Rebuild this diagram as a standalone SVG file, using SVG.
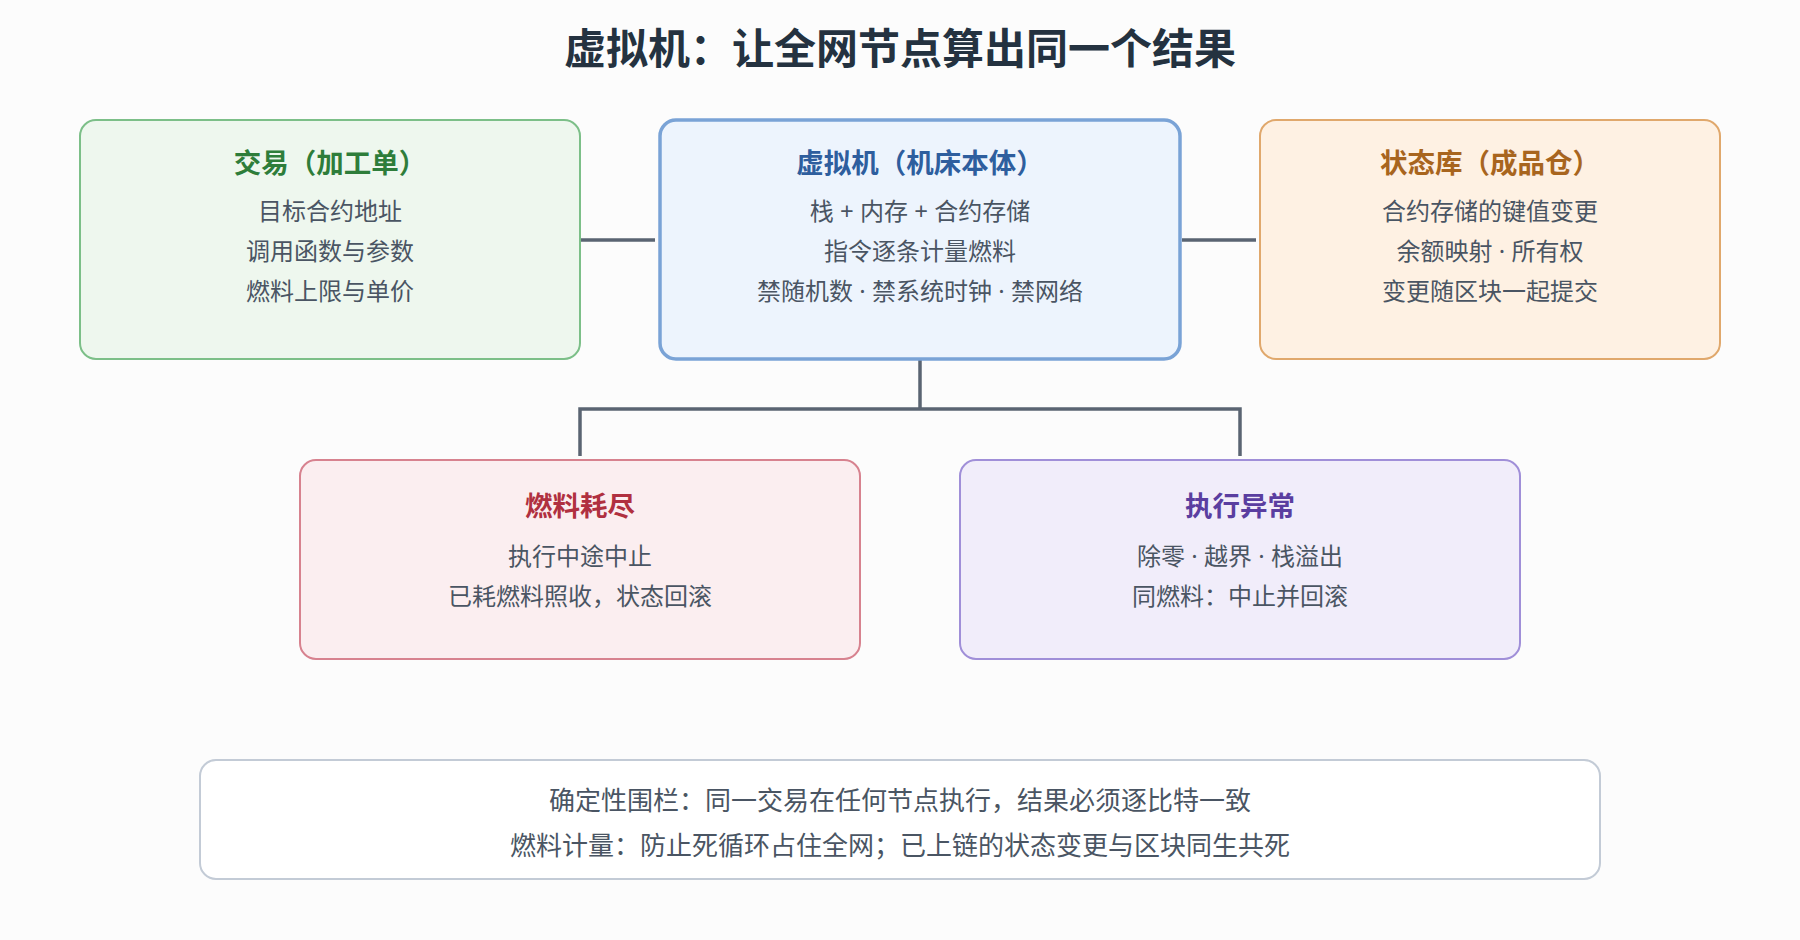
<svg xmlns="http://www.w3.org/2000/svg" width="1800" height="940" viewBox="0 0 1800 940">
<style>
text{font-family:"Noto Sans","Noto Sans CJK SC",sans-serif;text-anchor:middle}
.t{font-size:27.5px;font-weight:700}
.b{font-size:24px;fill:#4a5563}
.f{font-size:26px;fill:#4a5563}
.c{stroke:#5a6472;stroke-width:3.5;fill:none}
</style>
<rect width="1800" height="940" fill="#fcfcfc"/>
<text x="900" y="64" style="font-size:42px;font-weight:700" fill="#243240">虚拟机：让全网节点算出同一个结果</text>
<g id="connectors">
<path class="c" d="M580 240H655M1182 240H1256M920 360V409M580 456V409H1240V456"/>
</g>
<g id="tx"><rect x="80" y="120" width="500" height="239" rx="16" fill="#eef7ee" stroke="#7cbf88" stroke-width="2"/>
<text x="330" y="173" class="t" fill="#2e7d3a">交易（加工单）</text>
<text x="330" y="220" class="b">目标合约地址</text><text x="330" y="260" class="b">调用函数与参数</text><text x="330" y="300" class="b">燃料上限与单价</text></g>
<g id="vm"><rect x="660" y="120" width="520" height="239" rx="16" fill="#edf4fd" stroke="#7aa3d6" stroke-width="3.5"/>
<text x="920" y="173" class="t" fill="#2e5e9e">虚拟机（机床本体）</text>
<text x="920" y="220" class="b">栈 + 内存 + 合约存储</text><text x="920" y="260" class="b">指令逐条计量燃料</text><text x="920" y="300" class="b">禁随机数 · 禁系统时钟 · 禁网络</text></g>
<g id="state"><rect x="1260" y="120" width="460" height="239" rx="16" fill="#fef1e3" stroke="#e0a86c" stroke-width="2"/>
<text x="1490" y="173" class="t" fill="#a8651e">状态库（成品仓）</text>
<text x="1490" y="220" class="b">合约存储的键值变更</text><text x="1490" y="260" class="b">余额映射 · 所有权</text><text x="1490" y="300" class="b">变更随区块一起提交</text></g>
<g id="gas"><rect x="300" y="460" width="560" height="199" rx="16" fill="#fbeef0" stroke="#d7828f" stroke-width="2"/>
<text x="580" y="516" class="t" fill="#b03040">燃料耗尽</text>
<text x="580" y="565" class="b">执行中途中止</text><text x="580" y="605" class="b">已耗燃料照收，状态回滚</text></g>
<g id="err"><rect x="960" y="460" width="560" height="199" rx="16" fill="#f1edfa" stroke="#a08fd8" stroke-width="2"/>
<text x="1240" y="516" class="t" fill="#5a3ea0">执行异常</text>
<text x="1240" y="565" class="b">除零 · 越界 · 栈溢出</text><text x="1240" y="605" class="b">同燃料：中止并回滚</text></g>
<g id="footer"><rect x="200" y="760" width="1400" height="119" rx="16" fill="#fff" stroke="#c3cbd6" stroke-width="2"/>
<text x="900" y="810" class="f">确定性围栏：同一交易在任何节点执行，结果必须逐比特一致</text>
<text x="900" y="855" class="f">燃料计量：防止死循环占住全网；已上链的状态变更与区块同生共死</text></g>
</svg>
